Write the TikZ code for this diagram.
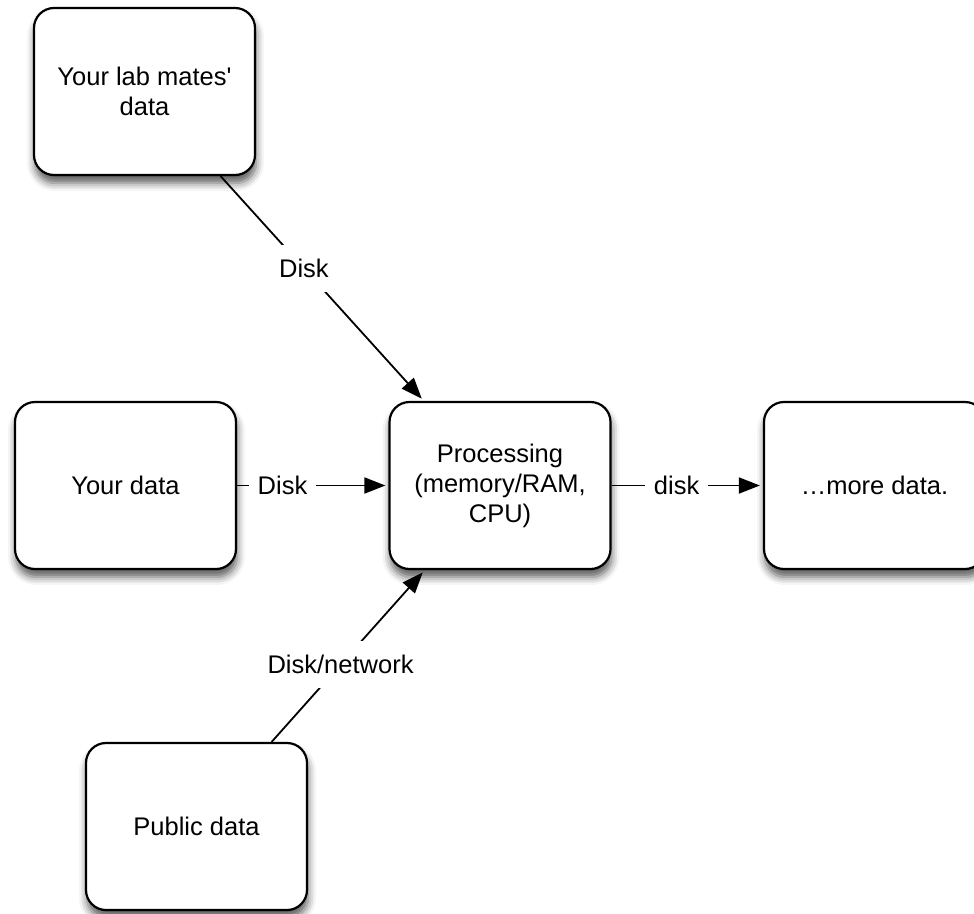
\documentclass[tikz,border=0pt]{standalone}
\usepackage{fontspec}
\setmainfont{Liberation Sans}
\usetikzlibrary{arrows.meta,shadows.blur}

\tikzset{
  databox/.style={draw=black, line width=2.2pt, rounded corners=20pt, fill=white,
    minimum width=221pt, minimum height=167pt, align=center,
    blur shadow={shadow xshift=1pt, shadow yshift=-8pt, shadow blur radius=8pt, shadow opacity=65}},
  flow/.style={line width=1.8pt, shorten >=3pt, -{Triangle[length=21pt,width=16pt]}},
  flowlabel/.style={fill=white, inner xsep=9pt, inner ysep=14pt}
}

\begin{document}
\begin{tikzpicture}[x=1pt,y=-1pt,font=\fontsize{25.5}{30}\selectfont]
		\useasboundingbox (0,0) rectangle (974,913);
		% boxes
		\node[databox] (mates) at (144.5,91.5) {Your lab mates\textquotesingle\\data};
		\node[databox] (mine) at (125.5,485.5) {Your data};
		\node[databox] (proc) at (500,485.5) {Processing\\(memory/RAM,\\CPU)};
		\node[databox] (more) at (874.5,485.5) {\ldots more data.};
		\node[databox] (public) at (196.5,826.5) {Public data};
		% connectors
		\draw[flow] (mates) -- node[flowlabel,pos=0.41]{Disk} (proc);
		\draw[flow] (mine) -- node[flowlabel,pos=0.3]{Disk} (proc);
		\draw[flow] (proc) -- node[flowlabel,pos=0.43]{disk} (more);
		\draw[flow] (public) -- node[flowlabel,pos=0.45]{Disk/network} (proc);
\end{tikzpicture}
\end{document}
